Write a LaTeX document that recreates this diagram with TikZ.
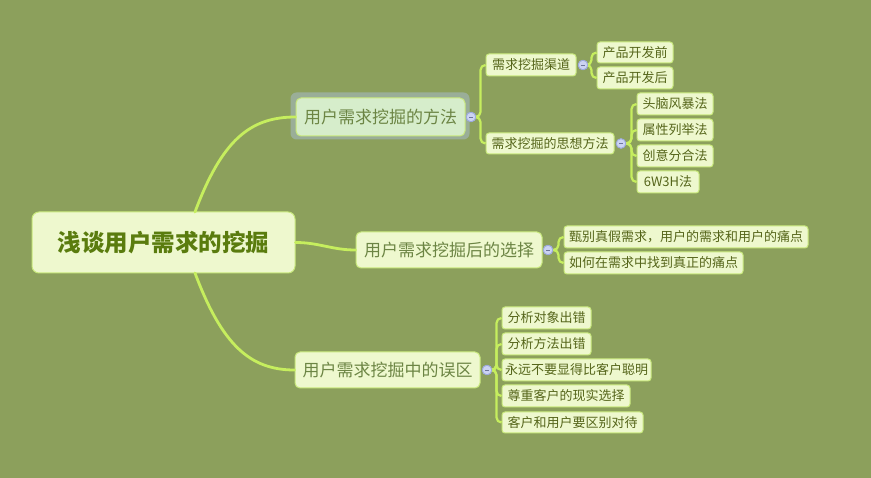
\documentclass[tikz,border=0pt]{standalone}
\usepackage{fontspec}
\setmainfont{Noto Sans CJK SC}
\definecolor{bg}{HTML}{8CA05C}
\definecolor{conn}{HTML}{C6EE5E}
\definecolor{nodefill}{HTML}{EEF8CE}
\definecolor{nodeborder}{HTML}{C8E87C}
\definecolor{smalltext}{HTML}{55651A}
\definecolor{maintext}{HTML}{6C8544}
\definecolor{roottext}{HTML}{5A7C0E}
\definecolor{selfill}{HTML}{D6EDCB}
\definecolor{halo}{HTML}{9AAE98}
\definecolor{cfill}{HTML}{CBD3F2}
\definecolor{cborder}{HTML}{9CA9DE}
\tikzset{
  base/.style={draw=nodeborder, fill=nodefill, rounded corners=3pt, inner sep=0pt, line width=1pt},
  leaf/.style={base, text=smalltext, font=\fontsize{13}{15}\selectfont, minimum height=22pt},
  mainbox/.style={base, text=maintext, font=\fontsize{17}{19}\selectfont, minimum height=36pt, rounded corners=5pt},
  rootbox/.style={base, text=roottext, font=\fontsize{23.5}{26}\selectfont\bfseries, rounded corners=7pt},
  conn/.style={draw=conn, line width=2.8pt, line cap=round},
  sub/.style={draw=conn, line width=2.2pt, rounded corners=5pt},
  knob/.style={circle, draw=cborder, fill=cfill, line width=0.8pt, inner sep=0pt, minimum size=9.5pt,
    path picture={\draw[draw=cborder!70!black, line width=0.9pt] ([xshift=-2pt]path picture bounding box.center) -- ([xshift=2pt]path picture bounding box.center);}}
}
\begin{document}
\begin{tikzpicture}[x=1pt,y=-1pt]
\useasboundingbox (0,0) rectangle (871,478);
\fill[bg] (0,0) rectangle (871,478);

% root and main branches
\node[rootbox, minimum width=263pt, minimum height=61pt] (root) at (163.5,242.5) {浅谈用户需求的挖掘};
\fill[halo, rounded corners=6pt] (290.5,92.5) rectangle (469.5,139.5);
\node[mainbox, fill=selfill, minimum width=169pt, minimum height=38pt] (b1) at (380.5,117) {用户需求挖掘的方法};
\node[mainbox, minimum width=186pt] (b2) at (449,250) {用户需求挖掘后的选择};
\node[mainbox, minimum width=185pt] (b3) at (387.5,370) {用户需求挖掘中的误区};

\coordinate (rt) at (195,212);
\coordinate (rb) at (195,273);
\draw[conn] (rt) .. controls (222,140) and (250,117) .. (b1.west);
\draw[conn] (rb) .. controls (222,345) and (250,370) .. (b3.west);
\draw[conn] (root.east) to[out=0,in=180] (b2.west);

% knobs
\node[knob] (k1) at (471,117) {};
\node[knob] (k2) at (548,250) {};
\node[knob] (k3) at (487,370) {};

% level 2 of b1
\node[leaf, minimum width=90pt] (a1) at (531,65) {需求挖掘渠道};
\node[leaf, minimum width=128pt, minimum height=21pt] (a2) at (550,143.5) {需求挖掘的思想方法};
\node[knob] (ka1) at (583,65) {};
\node[knob] (ka2) at (621,143.5) {};

% level 3
\node[leaf, minimum width=76pt, minimum height=21pt] (p1) at (635,52.5) {产品开发前};
\node[leaf, minimum width=76pt] (p2) at (635,78) {产品开发后};
\node[leaf, minimum width=76pt] (m1) at (675,104) {头脑风暴法};
\node[leaf, minimum width=76pt] (m2) at (675,130) {属性列举法};
\node[leaf, minimum width=76pt] (m3) at (675,156) {创意分合法};
\node[leaf, minimum width=62pt] (m4) at (668,182) {6W3H法};

% b2 children
\node[leaf, minimum width=244pt] (s1) at (686,237) {甄别真假需求，用户的需求和用户的痛点};
\node[leaf, minimum width=179pt] (s2) at (653.5,263) {如何在需求中找到真正的痛点};

% b3 children
\node[leaf, minimum width=89pt] (e1) at (546.5,318) {分析对象出错};
\node[leaf, minimum width=89pt] (e2) at (546.5,344) {分析方法出错};
\node[leaf, minimum width=149pt] (e3) at (576.5,370) {永远不要显得比客户聪明};
\node[leaf, minimum width=128pt] (e4) at (566,396) {尊重客户的现实选择};
\node[leaf, minimum width=141pt, minimum height=21pt] (e5) at (572.5,422.5) {客户和用户要区别对待};

% sub connectors
\foreach \k/\c in {k1/a1, k1/a2, ka1/p1, ka1/p2, ka2/m1, ka2/m2, ka2/m3, ka2/m4, k2/s1, k2/s2, k3/e1, k3/e2, k3/e3, k3/e4, k3/e5}{
  \draw[sub] (\k.east) -| ([xshift=-5pt]\c.west) -- (\c.west);
}
% knobs on top of connectors
\node[knob] at (k1) {};
\node[knob] at (k2) {};
\node[knob] at (k3) {};
\node[knob] at (ka1) {};
\node[knob] at (ka2) {};
\end{tikzpicture}
\end{document}
